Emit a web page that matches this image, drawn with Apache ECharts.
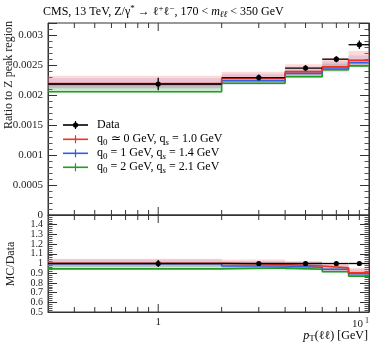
<!DOCTYPE html>
<html>
<head>
<meta charset="utf-8">
<script src="https://cdn.jsdelivr.net/npm/echarts@6/dist/echarts.min.js"></script>
<style>html,body{margin:0;padding:0;background:#fff}#main{width:382px;height:345px}</style>
</head>
<body>
<div id="main"></div>
<script>
// bins in pT(ll)
var binEdges = [0, 2, 4, 6, 8, 10];
var binCenters = [1, 3, 5, 7, 9];
var xMin = 0.3;

// top panel: ratio to Z peak region
var dataVal = [0.002183, 0.00229, 0.002448, 0.002597, 0.002838];
var dataErr = [0.000105, 0.00005, 0.00005, 0.00005, 0.00007];
var redVal = [0.00219, 0.002274, 0.00239, 0.002472, 0.00258];
var redUp = [0.00232, 0.002387, 0.002514, 0.002613, 0.002735];
var redLo = [0.00212, 0.0022, 0.002315, 0.0024, 0.0025];
var blueVal = [0.002175, 0.002238, 0.00236, 0.00245, 0.00254];
var blueUp = [0.00228, 0.00235, 0.00247, 0.00256, 0.00266];
var blueLo = [0.00211, 0.00217, 0.00229, 0.00238, 0.00247];
var greenVal = [0.002055, 0.002195, 0.002304, 0.00242, 0.002486];
var greenUp = [0.00216, 0.0023, 0.00241, 0.00252, 0.0026];
var greenLo = [0.00204, 0.00218, 0.00229, 0.0024, 0.00247];

// bottom panel: MC/Data
var ratioData = [1, 1, 1, 1, 1];
var ratioDataErr = [0.035, 0.015, 0.015, 0.015, 0.02];
var rRedVal = [1.003, 0.99, 0.975, 0.955, 0.905];
var rRedUp = [1.05, 1.04, 1.025, 1.005, 0.955];
var rRedLo = [0.97, 0.96, 0.945, 0.925, 0.878];
var rBlueVal = [0.997, 0.975, 0.962, 0.94, 0.895];
var rBlueUp = [1.04, 1.025, 1.01, 0.985, 0.94];
var rBlueLo = [0.965, 0.945, 0.93, 0.91, 0.865];
var rGreenVal = [0.945, 0.955, 0.94, 0.915, 0.87];
var rGreenUp = [0.995, 1.0, 0.985, 0.96, 0.915];
var rGreenLo = [0.938, 0.948, 0.933, 0.908, 0.863];

// x ticks (log axis)
var xMinorTicks = [0.4, 0.5, 0.6, 0.7, 0.8, 0.9, 2, 3, 4, 5, 6, 7, 8, 9];
var xMajorTicks = [1, 10];

var FONT = 'Liberation Serif';
var RED = '#ee3322', BLUE = '#2f5fe8', GREEN = '#1ea01e';

function stepData(vals) {
    var pts = [];
    for (var i = 0; i < vals.length; i++) pts.push([Math.max(binEdges[i], xMin), vals[i]]);
    pts.push([binEdges[vals.length], vals[vals.length - 1]]);
    return pts;
}
function bandData(lo, up) {
    return lo.map(function (l, i) {
        return [Math.max(binEdges[i], xMin), binEdges[i + 1], l, up[i]];
    });
}
function bandItem(color) {
    return function (params, api) {
        var p1 = api.coord([api.value(0), api.value(3)]);
        var p2 = api.coord([api.value(1), api.value(2)]);
        return {type: 'rect', shape: {x: p1[0], y: p1[1], width: p2[0] - p1[0], height: p2[1] - p1[1]},
            style: {fill: color}};
    };
}
function pointsData(vals, errs) {
    return vals.map(function (v, i) {
        return [Math.max(binEdges[i], xMin), binEdges[i + 1], binCenters[i], v, errs[i]];
    });
}
function pointItem(params, api) {
    var a = api.coord([api.value(0), api.value(3)]);
    var b = api.coord([api.value(1), api.value(3)]);
    var c = api.coord([api.value(2), api.value(3)]);
    var t = api.coord([api.value(2), api.value(3) + api.value(4)]);
    var d = api.coord([api.value(2), api.value(3) - api.value(4)]);
    var st = {stroke: '#000', lineWidth: 1.3};
    return {type: 'group', children: [
        {type: 'line', shape: {x1: a[0], y1: a[1], x2: b[0], y2: b[1]}, style: st},
        {type: 'line', shape: {x1: c[0], y1: t[1], x2: c[0], y2: d[1]}, style: st},
        {type: 'circle', shape: {cx: c[0], cy: c[1], r: 2.6}, style: {fill: '#000'}}
    ]};
}
var tickData = xMinorTicks.map(function (v) { return [v, 0]; })
    .concat(xMajorTicks.map(function (v) { return [v, 1]; }));
function tickItem(params, api) {
    var cs = params.coordSys;
    var x = api.coord([api.value(0), 1])[0];
    var len = api.value(1) ? 8 : 5;
    var st = {stroke: '#333', lineWidth: 1};
    return {type: 'group', children: [
        {type: 'line', shape: {x1: x, y1: cs.y + cs.height, x2: x, y2: cs.y + cs.height - len}, style: st},
        {type: 'line', shape: {x1: x, y1: cs.y, x2: x, y2: cs.y + len}, style: st}
    ]};
}

function panelSeries(xi, yi, vals, ups, los, pts, errs) {
    var colors = [RED, BLUE, GREEN];
    var fills = ['rgba(250,110,100,0.26)', 'rgba(110,130,240,0.22)', 'rgba(60,175,60,0.26)'];
    var s = [];
    for (var k = 2; k >= 0; k--) {
        s.push({type: 'custom', xAxisIndex: xi, yAxisIndex: yi, renderItem: bandItem(fills[k]),
            data: bandData(los[k], ups[k]), encode: {x: [0, 1], y: [2, 3]}, silent: true, z: 1});
    }
    for (k = 2; k >= 0; k--) {
        s.push({type: 'line', xAxisIndex: xi, yAxisIndex: yi, step: 'end', data: stepData(vals[k]),
            symbol: 'none', lineStyle: {color: colors[k], width: 1.6}, silent: true, z: 3});
    }
    s.push({type: 'custom', xAxisIndex: xi, yAxisIndex: yi, renderItem: pointItem,
        data: pointsData(pts, errs), encode: {x: [0, 1], y: 3}, z: 5});
    s.push({type: 'custom', xAxisIndex: xi, yAxisIndex: yi, renderItem: tickItem,
        data: tickData, encode: {x: 0}, silent: true, z: 6});
    return s;
}

function yAxisDef(grid, pos, min, max, interval, showLabel, fmt, fs, showMin) {
    return {
        type: 'value', gridIndex: grid, position: pos, min: min, max: max, interval: interval,
        axisLine: {show: true, lineStyle: {color: '#333'}},
        axisTick: {show: true, inside: true, length: 9, lineStyle: {color: '#333'}},
        minorTick: {show: true, splitNumber: 5, length: 4.5, lineStyle: {color: '#555'}},
        splitLine: {show: false},
        axisLabel: {show: showLabel, formatter: fmt, showMinLabel: showMin, showMaxLabel: false, margin: 5,
            fontFamily: FONT, fontSize: fs, color: '#222'}
    };
}
function xAxisDef(grid, showLabel) {
    return {
        type: 'log', logBase: 10, gridIndex: grid, min: xMin, max: 10,
        axisLine: {show: true, lineStyle: {color: '#333'}},
        axisTick: {show: false}, splitLine: {show: false}, minorTick: {show: false},
        axisLabel: {show: showLabel, margin: 5, fontFamily: FONT, fontSize: 11, color: '#222',
            showMinLabel: false, alignMaxLabel: 'right',
            formatter: function (v) {
                if (Math.abs(v - 1) < 1e-6) return '1';
                if (Math.abs(v - 10) < 1e-6) return '10{sup|1}';
                return '';
            },
            rich: {sup: {fontFamily: FONT, fontSize: 8, verticalAlign: 'top', padding: [0, 0, 7, 2], color: '#222'}}}
    };
}

var topFmt = function (v) { return String(Math.round(v * 1e4) / 1e4); };
var botFmt = function (v) { return String(Math.round(v * 10) / 10); };
// extra label-only axis carrying the 0.5 label of the ratio panel
var ratioMinAxis = {
    type: 'value', gridIndex: 1, position: 'left', min: 0.5, max: 1.5, interval: 0.5,
    axisLine: {show: false}, axisTick: {show: false}, splitLine: {show: false},
    axisLabel: {margin: 5, fontFamily: FONT, fontSize: 10, color: '#222', showMaxLabel: false,
        formatter: function (v) { return Math.abs(v - 0.5) < 1e-6 ? '0.5' : ''; }}
};

var rich = {
    sub: {fontFamily: FONT, fontSize: 9, verticalAlign: 'bottom', padding: [6, 0, 0, 0], color: '#222'},
    subi: {fontFamily: FONT, fontSize: 9, fontStyle: 'italic', padding: [6, 0, 0, 0], color: '#222'},
    sup: {fontFamily: FONT, fontSize: 9, padding: [0, 0, 6, 0], color: '#222'},
    i: {fontFamily: FONT, fontSize: 12, fontStyle: 'italic', color: '#222'},
    n: {fontFamily: FONT, fontSize: 12, color: '#222'}
};

var legendRows = [
    {y: 125, color: '#000', dot: true, text: '{n|Data}'},
    {y: 139.3, color: RED, text: '{n|q}{sub|0}{n| ≃ 0 GeV, q}{subi|s}{n| = 1.0 GeV}'},
    {y: 153.3, color: BLUE, text: '{n|q}{sub|0}{n| = 1 GeV, q}{subi|s}{n| = 1.4 GeV}'},
    {y: 167.3, color: GREEN, text: '{n|q}{sub|0}{n| = 2 GeV, q}{subi|s}{n| = 2.1 GeV}'}
];
var graphics = [];
legendRows.forEach(function (r) {
    graphics.push({type: 'line', shape: {x1: 63, y1: r.y, x2: 88, y2: r.y}, style: {stroke: r.color, lineWidth: 1.6}});
    graphics.push({type: 'line', shape: {x1: 75.5, y1: r.y - 4, x2: 75.5, y2: r.y + 4}, style: {stroke: r.color, lineWidth: 1.2}});
    if (r.dot) graphics.push({type: 'circle', shape: {cx: 75.5, cy: r.y, r: 2.6}, style: {fill: '#000'}});
    graphics.push({type: 'text', x: 97, y: r.y, style: {text: r.text, rich: rich, verticalAlign: 'middle', align: 'left'}});
});
graphics.push({type: 'text', x: 43, y: 12, style: {
    text: '{n|CMS, 13 TeV, Z/γ}{sup|*}{n| → ℓ}{sup|+}{n|ℓ}{sup|−}{n|, 170 < }{i|m}{subi|ℓℓ}{n| < 350 GeV}',
    rich: rich, verticalAlign: 'middle', align: 'left'}});
graphics.push({type: 'text', x: 9, y: 21, rotation: Math.PI / 2, style: {
    text: 'Ratio to Z peak region', fontFamily: FONT, fontSize: 12, fill: '#222', align: 'right', verticalAlign: 'middle'}});
graphics.push({type: 'text', x: 11, y: 264, rotation: Math.PI / 2, style: {
    text: 'MC/Data', fontFamily: FONT, fontSize: 12, fill: '#222', align: 'center', verticalAlign: 'middle'}});
graphics.push({type: 'text', x: 368, y: 336, style: {
    text: '{i|p}{sub|T}{n|(ℓℓ) [GeV]}', rich: rich, align: 'right', verticalAlign: 'middle'}});

var chart = echarts.init(document.getElementById('main'), null, {renderer: 'canvas'});
var option = {
    animation: false,
    backgroundColor: '#fff',
    grid: [
        {left: 48, right: 13, top: 23, height: 192, show: true, borderColor: '#333', borderWidth: 1},
        {left: 48, right: 13, top: 215, height: 97, show: true, borderColor: '#333', borderWidth: 1}
    ],
    xAxis: [xAxisDef(0, false), xAxisDef(1, true)],
    yAxis: [
        yAxisDef(0, 'left', 0, 0.0032, 0.0005, true, topFmt, 11, true),
        yAxisDef(0, 'right', 0, 0.0032, 0.0005, false, topFmt, 11, true),
        yAxisDef(1, 'left', 0.5, 1.5, 0.1, true, botFmt, 10, false),
        yAxisDef(1, 'right', 0.5, 1.5, 0.1, false, botFmt, 10, false),
        ratioMinAxis
    ],
    series: panelSeries(0, 0, [redVal, blueVal, greenVal], [redUp, blueUp, greenUp],
        [redLo, blueLo, greenLo], dataVal, dataErr)
        .concat(panelSeries(1, 2, [rRedVal, rBlueVal, rGreenVal], [rRedUp, rBlueUp, rGreenUp],
            [rRedLo, rBlueLo, rGreenLo], ratioData, ratioDataErr)),
    graphic: graphics
};
chart.setOption(option);
</script>
</body>
</html>
